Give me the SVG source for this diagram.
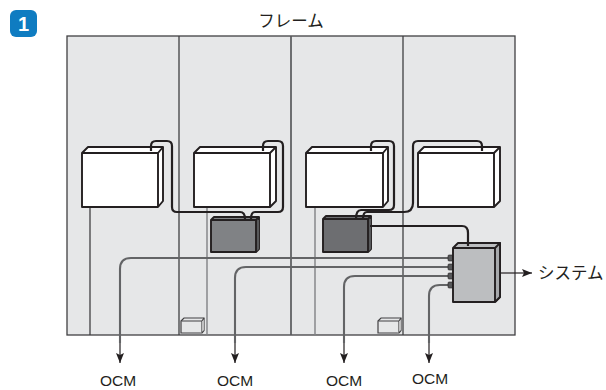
<svg xmlns="http://www.w3.org/2000/svg" width="606" height="390" viewBox="0 0 606 390">
<style>
text{font-family:"Liberation Sans","Noto Sans CJK JP",sans-serif;fill:#231f20}
.ja{font-family:"Noto Sans CJK JP","Noto Sans",sans-serif;font-size:16.500px}
.ocm{font-size:15.500px;text-anchor:middle}
.f{stroke:#231f20;stroke-width:1.900;stroke-linejoin:round}
.w{fill:#fff}
.div{stroke:#414042;stroke-width:1.300;fill:none}
.gv{stroke:#808285;stroke-width:1.400;fill:none}
.cab{stroke:#231f20;stroke-width:2.200;fill:none}
.ocl{stroke:#636466;stroke-width:2.100;fill:none}
.ar{stroke:#231f20;stroke-width:1.200;fill:none;marker-end:url(#ah)}
.s{stroke:#414042;stroke-width:1.200;fill:#e6e7e8}
</style>
<defs>
<marker id="ah" viewBox="0 0 10 8" refX="10" refY="4" markerUnits="userSpaceOnUse" markerWidth="10" markerHeight="8" orient="auto"><path d="M0 0L10 4L0 8L2 4Z" fill="#231f20"/></marker>
</defs>
<g id="badge"><rect x="10" y="10" width="27" height="27" rx="6" fill="#0f7cc1"/><text x="23.500" y="31" font-size="20" font-weight="bold" text-anchor="middle" style="fill:#fff">1</text></g>
<g id="frame">
<rect x="67" y="36" width="448" height="299" fill="#e6e7e8" stroke="#414042" stroke-width="1.300"/>
<path class="div" d="M179 36V335M403 36V335"/>
<path d="M291 36V335" stroke="#58595b" stroke-width="1.700"/>
<text class="ja" x="291" y="27" text-anchor="middle">フレーム</text>
</g>
<g id="frame-lines">
<path class="div" d="M90 207V335"/>
<path class="gv" d="M207 207V335M315 207V335"/>
</g>
<g id="small-box-1"><path class="s" d="M181 321L184 318H204V330.500L202 333H181Z"/><path class="s" fill="none" d="M181 321H202V333M202 321L204 318"/><path d="M202.500 321.500L203.500 319.500V330L202.500 331.500Z" fill="#fff"/></g>
<g id="small-box-2"><path class="s" d="M378 321L381 318H401V330.500L399 333H378Z"/><path class="s" fill="none" d="M378 321H399V333M399 321L401 318"/><path d="M399.500 321.500L400.500 319.500V330L399.500 331.500Z" fill="#fff"/></g>
<g id="connectors">
<path class="ocl" d="M451 258H131Q120 258 120 269V343"/>
<path class="ocl" d="M451 267H246Q235 267 235 278V343"/>
<path class="ocl" d="M451 276H355Q344 276 344 287V343"/>
<path class="ocl" d="M451 285H440Q429 285 429 296V343"/>
<path class="ar" d="M120 343V363"/>
<path class="ar" d="M235 343V363"/>
<path class="ar" d="M344 343V363"/>
<path class="ar" d="M429 343V363"/>
<path class="ar" d="M500 273H532"/>
</g>
<g id="nubs" fill="#58595b" stroke="#231f20" stroke-width=".6">
<rect x="448" y="255" width="5" height="6" rx="1"/><rect x="448" y="264" width="5" height="6" rx="1"/><rect x="448" y="273" width="5" height="6" rx="1"/><rect x="448" y="282" width="5" height="6" rx="1"/>
</g>
<g id="module-1"><path class="f w" d="M82 153L88 147H163V201L158 207H82Z"/><path class="f" fill="none" d="M82 153H158V207M158 153L163 147"/></g>
<g id="module-2"><path class="f w" d="M194 153L200 147H276V201L270 207H194Z"/><path class="f" fill="none" d="M194 153H270V207M270 153L276 147"/></g>
<g id="module-3"><path class="f w" d="M306 153L312 147H388V201L383 207H306Z"/><path class="f" fill="none" d="M306 153H383V207M383 153L388 147"/></g>
<g id="module-4"><path class="f w" d="M418 153L424 147H500V201L494 207H418Z"/><path class="f" fill="none" d="M418 153H494V207M494 153L500 147"/></g>
<g id="unit-1"><path class="f" fill="#808285" d="M211 220L214 217H259V249L256 252H211Z"/><path d="M256 220H259V249L256 252Z" fill="#58595b"/><path class="f" fill="none" d="M211 220H256V252M256 220L259 217"/></g>
<g id="unit-2"><path class="f" fill="#6d6e71" d="M323 219L326 216H371V249L368 252H323Z"/><path d="M368 219H371V249L368 252Z" fill="#58595b"/><path class="f" fill="none" d="M323 219H368V252M368 219L371 216"/></g>
<g id="switch"><path class="f" fill="#bcbec0" d="M453 248L458 243H500V297L495 302H453Z"/><path d="M495 248L500 243V297L495 302Z" fill="#a7a9ac"/><path class="f" fill="none" d="M453 248H495V302M495 248L500 243V297L495 302"/></g>
<g id="cables">
<path class="cab" d="M151 151V146Q151 141 156 141H167Q172 141 172 146V207Q172 212 177 212H240Q245 212 245 219"/>
<path class="cab" d="M263 151V146Q263 141 268 141H278Q283 141 283 146V207Q283 212 278 212H255Q251 212 251 219"/>
<path class="cab" d="M371 151V146Q371 141 376 141H389Q394 141 394 146V205Q394 210 389 210H361Q356 210 356 219"/>
<path class="cab" d="M482 151V146Q482 141 477 141H418Q413 141 413 146V203Q413 212 404 212H367Q363 212 363 219"/>
<path class="cab" d="M370 226H462Q468 226 468 233V246"/>
</g>
<g id="labels">
<text class="ja" x="538" y="279">システム</text>
<text class="ocm" x="118" y="386">OCM</text>
<text class="ocm" x="235" y="386">OCM</text>
<text class="ocm" x="344" y="386">OCM</text>
<text class="ocm" x="430" y="384">OCM</text>
</g>
</svg>
